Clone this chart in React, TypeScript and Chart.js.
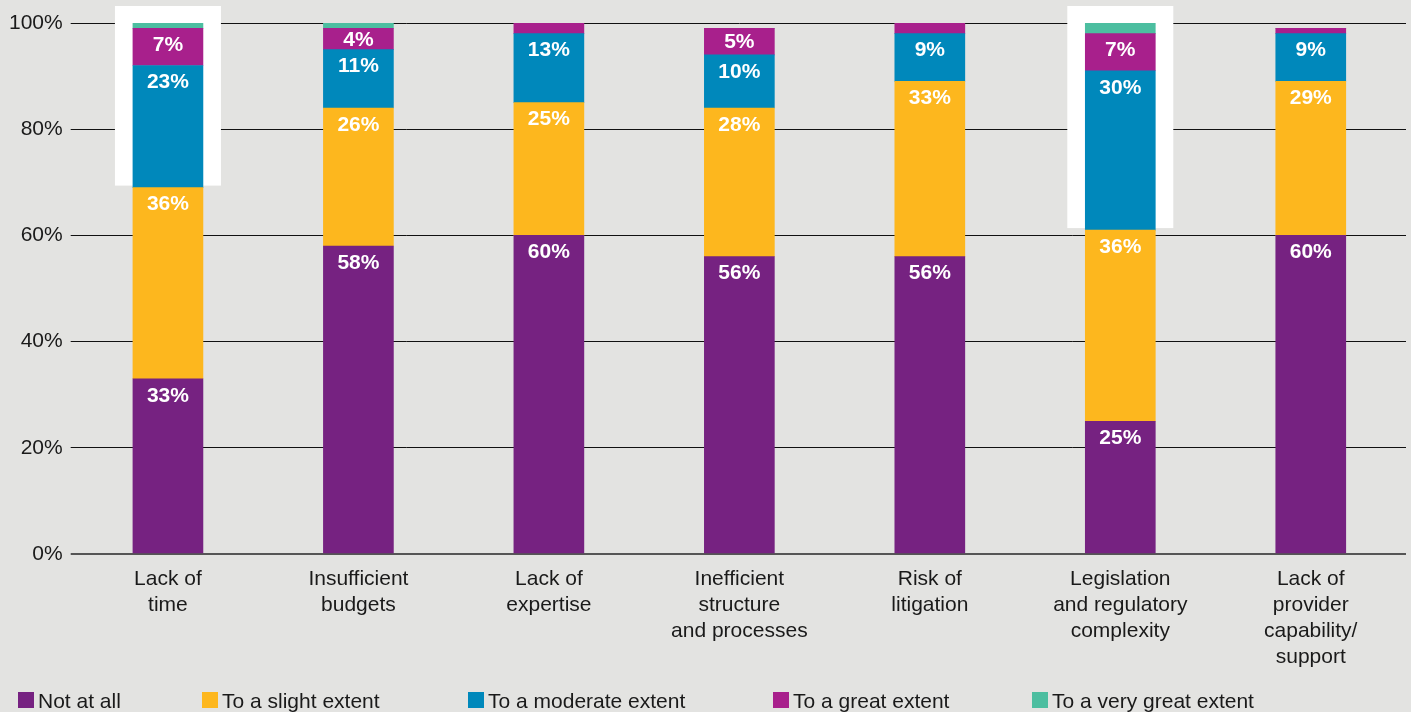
import React, { useEffect, useRef } from "react";
import { Chart, registerables } from "chart.js";

Chart.register(...registerables);

const categories: string[][] = [
  ["Lack of", "time"],
  ["Insufficient", "budgets"],
  ["Lack of", "expertise"],
  ["Inefficient", "structure", "and processes"],
  ["Risk of", "litigation"],
  ["Legislation", "and regulatory", "complexity"],
  ["Lack of", "provider", "capability/", "support"],
];

const seriesNames = [
  "Not at all",
  "To a slight extent",
  "To a moderate extent",
  "To a great extent",
  "To a very great extent",
];

const notAtAll = [33, 58, 60, 56, 56, 25, 60];
const slightExtent = [36, 26, 25, 28, 33, 36, 29];
const moderateExtent = [23, 11, 13, 10, 9, 30, 9];
const greatExtent = [7, 4, 2, 5, 2, 7, 1];
const veryGreatExtent = [1, 1, 0, 0, 0, 2, 0];

const highlightedIndices = [0, 5];

const colors = ["#762281", "#fdb71e", "#0088bb", "#a8208c", "#4cbea0"];
const BG = "#e3e3e1";
const FONT = "'Liberation Sans', Arial, Helvetica, sans-serif";
const legendX = [18, 202, 468, 773, 1032];

const bgPlugin = {
  id: "bgFill",
  beforeDraw(chart: any) {
    const { ctx, width, height } = chart;
    ctx.save();
    ctx.fillStyle = BG;
    ctx.fillRect(0, 0, width, height);
    ctx.restore();
  },
};

const highlightPlugin = {
  id: "highlightBox",
  beforeDatasetsDraw(chart: any) {
    const { ctx, chartArea } = chart;
    const xs = chart.scales.x;
    const ys = chart.scales.y;
    ctx.save();
    ctx.fillStyle = "#ffffff";
    highlightedIndices.forEach((i) => {
      const cx = xs.getPixelForValue(i);
      const top = chartArea.top - 17;
      const bottom = ys.getPixelForValue(notAtAll[i] + slightExtent[i]) - 2;
      ctx.fillRect(cx - 53, top, 106, bottom - top);
    });
    ctx.restore();
  },
};

const labelPlugin = {
  id: "segLabels",
  afterDatasetsDraw(chart: any) {
    const { ctx } = chart;
    ctx.save();
    ctx.fillStyle = "#ffffff";
    ctx.font = `bold 21px ${FONT}`;
    ctx.textAlign = "center";
    ctx.textBaseline = "middle";
    chart.data.datasets.forEach((ds: any, di: number) => {
      const meta = chart.getDatasetMeta(di);
      meta.data.forEach((el: any, i: number) => {
        const v = ds.data[i];
        if (v < 3) return;
        const h = el.base - el.y;
        const y = el.y + Math.min(16, h / 2);
        ctx.fillText(`${v}%`, el.x, y + 1);
      });
    });
    ctx.restore();
  },
};

const legendPlugin = {
  id: "customLegend",
  afterDraw(chart: any) {
    const { ctx } = chart;
    ctx.save();
    ctx.font = `21px ${FONT}`;
    ctx.textBaseline = "alphabetic";
    ctx.textAlign = "left";
    chart.data.datasets.forEach((ds: any, di: number) => {
      const x = legendX[di];
      ctx.fillStyle = ds.backgroundColor;
      ctx.fillRect(x, 692, 16, 16);
      ctx.fillStyle = "#1a1a1a";
      ctx.fillText(ds.label, x + 20, 708);
    });
    ctx.restore();
  },
};

export default function App() {
  const ref = useRef<HTMLCanvasElement | null>(null);

  useEffect(() => {
    document.body.style.margin = "0";
    document.body.style.background = BG;
    document.body.style.overflow = "hidden";
    const seriesData = [notAtAll, slightExtent, moderateExtent, greatExtent, veryGreatExtent];
    const chart = new Chart(ref.current as HTMLCanvasElement, {
      type: "bar",
      data: {
        labels: categories as any,
        datasets: seriesData.map((d, i) => ({
          label: seriesNames[i],
          data: d,
          backgroundColor: colors[i],
          borderWidth: 0,
          barThickness: 70,
        })),
      },
      options: {
        animation: false,
        responsive: false,
        layout: { padding: { top: 23, right: 5, left: 0, bottom: 0 } },
        plugins: {
          legend: { display: false },
          tooltip: { enabled: false },
        },
        scales: {
          x: {
            stacked: true,
            grid: { display: false },
            border: { display: false },
            ticks: {
              color: "#1a1a1a",
              font: { family: FONT, size: 21, lineHeight: 26 / 21 },
              padding: 4,
              maxRotation: 0,
              autoSkip: false,
            },
            afterFit: (scale: any) => {
              scale.height = 158;
            },
          },
          y: {
            stacked: true,
            min: 0,
            max: 100,
            border: { display: false },
            grid: {
              color: (c: any) => (c.tick && c.tick.value === 0 ? "#555555" : "#111111"),
              lineWidth: (c: any) => (c.tick && c.tick.value === 0 ? 2 : 1),
              tickLength: 2,
            },
            ticks: {
              stepSize: 20,
              color: "#1a1a1a",
              font: { family: FONT, size: 21 },
              padding: 8,
              callback: (v: any) => `${v}%`,
            },
            afterFit: (scale: any) => {
              scale.width = 72.7;
            },
          },
        },
      },
      plugins: [bgPlugin, highlightPlugin, labelPlugin, legendPlugin],
    });
    return () => chart.destroy();
  }, []);

  return <canvas ref={ref} width={1411} height={712} style={{ display: "block" }} />;
}
